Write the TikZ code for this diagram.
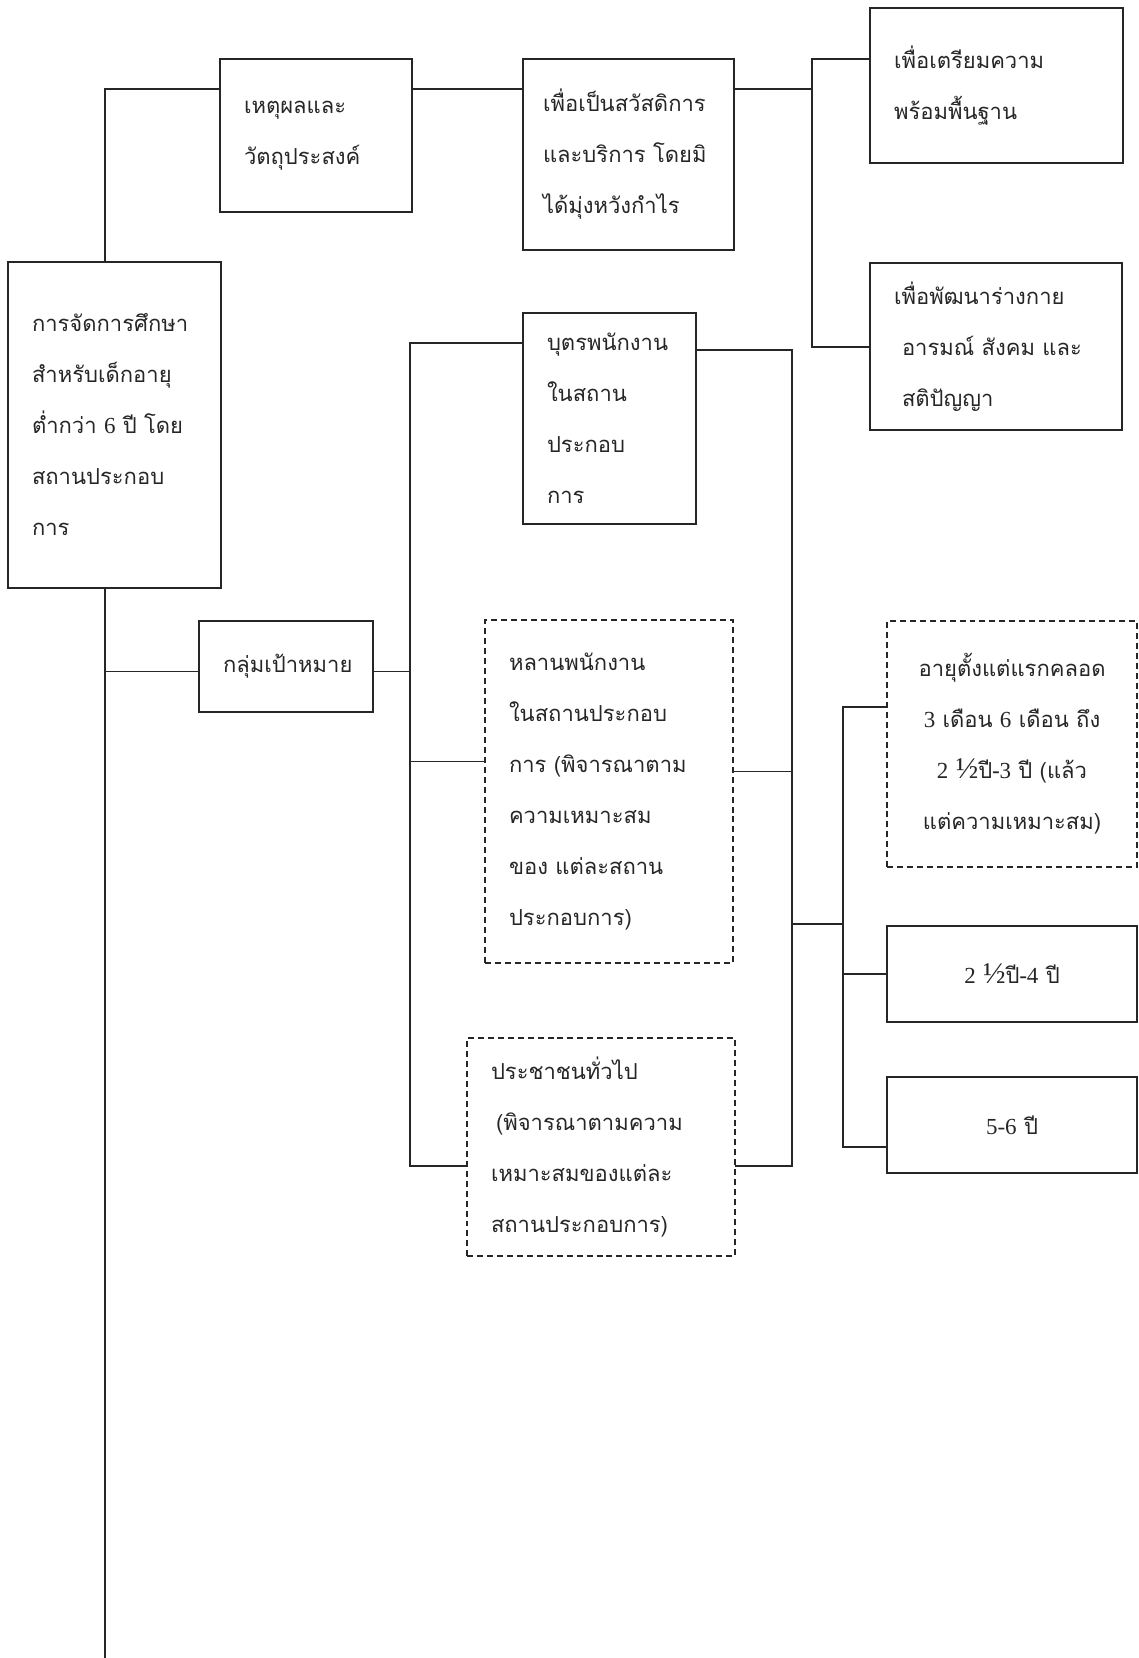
\documentclass[tikz,border=0pt]{standalone}
\usepackage{fontspec}
\setmainfont[Script=Thai]{Loma}
\newfontfamily\numfont{Liberation Serif}
\newcommand{\nm}[1]{{\numfont\fontsize{23bp}{52bp}\selectfont #1}}
\newcommand{\half}{{\numfont\fontsize{30bp}{52bp}\selectfont ½}}
\begin{document}
\begin{tikzpicture}[x=1bp, y=-1bp, line width=1.1pt, black!85,
    box/.style={draw, anchor=north west, outer sep=0pt, inner xsep=24bp, align=left,
                font=\fontsize{22bp}{51bp}\selectfont},
    dbox/.style={box, dash pattern=on 6pt off 4pt},
    cbox/.style={box, align=center}]
\useasboundingbox (0,0) rectangle (1138,1658);
% boxes
\node[box, minimum width=213bp, minimum height=326bp, text width=165bp] (main) at (8,262)
    {การจัดการศึกษา\\ สำหรับเด็กอายุ\\ ต่ำกว่า \nm{6} ปี โดย\\ สถานประกอบ\\ การ};
\node[box, minimum width=192bp, minimum height=153bp, text width=144bp] (reason) at (220,59)
    {เหตุผลและ\\ วัตถุประสงค์};
\node[box, inner xsep=20bp, minimum width=211bp, minimum height=191bp, text width=171bp] (welfare) at (523,59)
    {เพื่อเป็นสวัสดิการ\\ และบริการ~โดยมิ\\ ได้มุ่งหวังกำไร};
\node[box, minimum width=253bp, minimum height=155bp, text width=205bp] (prep) at (870,8)
    {เพื่อเตรียมความ\\ พร้อมพื้นฐาน};
\node[box, minimum width=252bp, minimum height=167bp, text width=204bp] (grow) at (870,263)
    {เพื่อพัฒนาร่างกาย\\ \hspace*{8bp}อารมณ์ สังคม และ\\ \hspace*{8bp}สติปัญญา};
\node[box, minimum width=174bp, minimum height=91bp, text width=126bp] (target) at (199,621)
    {กลุ่มเป้าหมาย};
\node[box, minimum width=173bp, minimum height=211bp, text width=125bp] (child) at (523,313)
    {บุตรพนักงาน\\ ในสถาน\\ ประกอบ\\ การ};
\node[dbox, minimum width=248bp, minimum height=343bp, text width=200bp] (niece) at (485,620)
    {หลานพนักงาน\\ ในสถานประกอบ\\ การ (พิจารณาตาม\\ ความเหมาะสม\\ ของ แต่ละสถาน\\ ประกอบการ)};
\node[dbox, minimum width=268bp, minimum height=218bp, text width=220bp] (public) at (467,1038)
    {ประชาชนทั่วไป\\ \hspace*{5bp}(พิจารณาตามความ\\ เหมาะสมของแต่ละ\\ สถานประกอบการ)};
\node[dbox, cbox, minimum width=250bp, minimum height=246bp, text width=202bp] (agea) at (887,621)
    {อายุตั้งแต่แรกคลอด\\ \nm{3} เดือน \nm{6} เดือน ถึง\\ \nm{2} \half ปี-\nm{3} ปี (แล้ว\\ แต่ความเหมาะสม)};
\node[cbox, minimum width=250bp, minimum height=96bp, text width=202bp] (ageb) at (887,926)
    {\nm{2} \half ปี-\nm{4} ปี};
\node[cbox, minimum width=250bp, minimum height=96bp, text width=202bp] (agec) at (887,1077)
    {\nm{5-6} ปี};
% rails
\coordinate (lt) at (105,89);
\coordinate (lb) at (105,1658);
\coordinate (ra) at (812,59);
\coordinate (rb) at (812,347);
\coordinate (tg) at (410,343);
\coordinate (tb) at (410,1166);
\coordinate (cr) at (792,350);
\coordinate (cb) at (792,1166);
\coordinate (ak) at (843,924);
\coordinate (ag) at (843,707);
\coordinate (ab) at (843,1147);
% connectors
\draw (main.north -| lt) |- (reason.west |- lt);
\draw (reason.east |- lt) -- (welfare.west |- lt);
\draw (welfare.east |- lt) -- (lt -| ra);
\draw (prep.west |- ra) -- (ra) -- (rb) -- (grow.west |- rb);
\draw (main.south -| lb) -- (lb);
\draw ([yshift=-5pt]target.west -| lb) -- ([yshift=-5pt]target.west);
\draw ([yshift=-5pt]target.east) -- ([yshift=-5pt]target.east -| tg);
\draw (child.west |- tg) -- (tg) -- (tb) -- (public.west |- tb);
\draw ([yshift=30pt]niece.west) -| (tg);
\draw (child.east |- cr) -- (cr) -- (cb) -- (public.east |- cb);
\draw ([yshift=20pt]niece.east) -| (cr);
\draw (ak -| cr) -- (ak);
\draw (agea.west |- ag) -- (ag) -- (ab) -- (agec.west |- ab);
\draw (ageb.west) -- (ageb.west -| ag);
\end{tikzpicture}
\end{document}
